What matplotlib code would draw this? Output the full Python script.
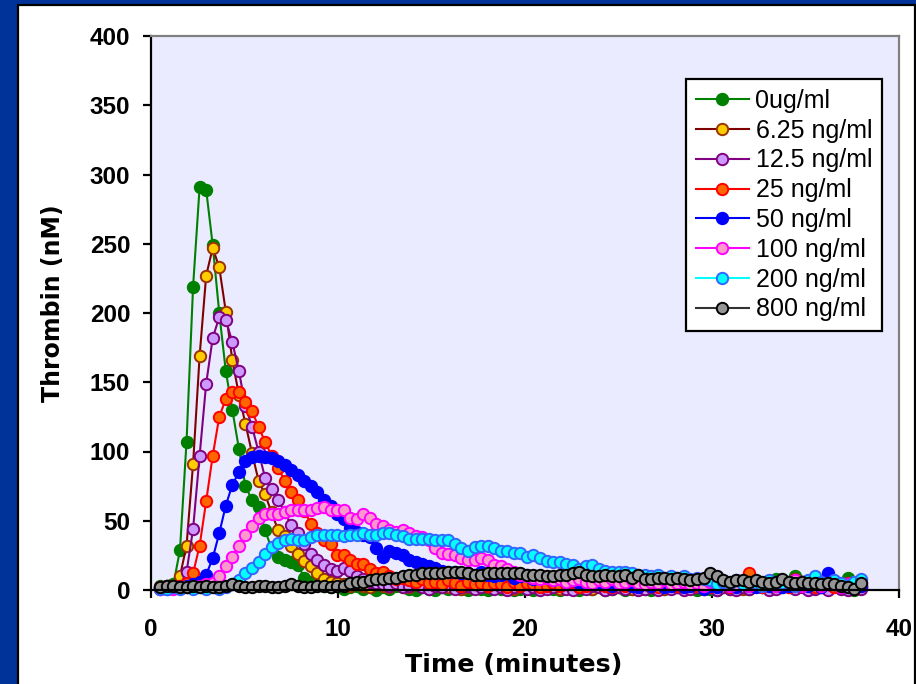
import numpy as np
import matplotlib.pyplot as plt
from matplotlib.patches import Rectangle

# sampling grid: one reading every 21 s from 0.5 min
nPoints = 108
timeMin = 0.5 + 0.35 * np.arange(nPoints)

seriesLabels = ['0ug/ml', '6.25 ng/ml', '12.5 ng/ml', '25 ng/ml',
                '50 ng/ml', '100 ng/ml', '200 ng/ml', '800 ng/ml']

thr0 = [3, 3, 4, 29, 107, 219, 291, 289, 249, 200,
        158, 130, 102, 75, 65, 60, 43, 30, 24, 22,
        20, 18, 9, 6, 4, 3, 2, 3, 1, 2,
        3, 1, 2, 0, 2, 1, 3, 2, 1, 0,
        2, 1, 0, 2, 1, 3, 1, 0, 2, 1,
        0, 2, 1, 3, 0, 1, 2, 0, 1, 3,
        1, 0, 2, 1, 0, 3, 1, 2, 0, 1,
        2, 0, 1, 3, 1, 0, 2, 1, 4, 2,
        1, 3, 0, 2, 1, 0, 2, 1, 3, 2,
        1, 4, 2, 6, 8, 5, 3, 10, 6, 5,
        3, 2, 4, 3, 2, 9, 0, 2]
thr6 = [2, 3, 3, 10, 32, 91, 169, 227, 247, 233,
        201, 166, 141, 120, 99, 79, 69, 56, 43, 39,
        32, 26, 21, 17, 12, 8, 6, 5, 4, 3,
        5, 3, 2, 4, 3, 2, 5, 3, 2, 4,
        3, 2, 3, 5, 2, 3, 1, 2, 4, 3,
        2, 3, 4, 2, 1, 3, 2, 4, 3, 2,
        3, 1, 2, 4, 3, 2, 1, 3, 2, 4,
        2, 3, 1, 2, 3, 4, 2, 1, 3, 2,
        4, 2, 3, 1, 2, 3, 4, 2, 3, 1,
        2, 3, 4, 2, 5, 3, 2, 8, 4, 3,
        2, 3, 1, 4, 2, 3, 1, 2]
thr12 = [2, 3, 2, 3, 13, 44, 97, 149, 182, 197,
         195, 179, 158, 133, 118, 100, 81, 73, 65, 56,
         47, 41, 33, 26, 22, 18, 15, 14, 16, 14,
         10, 8, 6, 5, 4, 3, 5, 2, 3, 4,
         2, 1, 3, 2, 4, 1, 2, 3, 1, 2,
         3, 1, 2, 0, 2, 3, 1, 2, 0, 1,
         2, 3, 1, 0, 2, 1, 3, 2, 0, 1,
         2, 1, 3, 0, 1, 2, 0, 3, 1, 2,
         0, 1, 2, 1, 3, 0, 2, 1, 0, 2,
         1, 3, 2, 0, 1, 2, 3, 1, 2, 0,
         1, 2, 0, 3, 1, 0, 2, 1]
thr25 = [2, 2, 3, 3, 5, 12, 32, 64, 97, 125,
         138, 143, 143, 136, 129, 118, 107, 97, 88, 79,
         71, 65, 57, 48, 41, 36, 33, 25, 25, 22,
         19, 19, 15, 12, 13, 10, 8, 9, 7, 6,
         8, 5, 6, 4, 7, 5, 3, 6, 4, 5,
         3, 5, 4, 2, 6, 3, 5, 4, 2, 3,
         5, 3, 4, 6, 2, 3, 5, 4, 3, 2,
         4, 3, 5, 2, 4, 3, 2, 4, 5, 3,
         2, 4, 3, 5, 2, 3, 4, 2, 3, 4,
         12, 3, 2, 4, 3, 5, 2, 3, 6, 4,
         2, 3, 4, 2, 3, 5, 2, 3]
thr50 = [1, 1, 2, 2, 3, 4, 6, 11, 23, 41,
         61, 76, 85, 93, 96, 97, 96, 95, 93, 90,
         87, 83, 79, 75, 71, 65, 61, 55, 51, 45,
         42, 40, 38, 30, 24, 28, 27, 25, 22, 20,
         19, 17, 16, 14, 13, 13, 12, 12, 11, 13,
         11, 10, 11, 12, 9, 10, 11, 8, 10, 9,
         7, 8, 6, 7, 5, 6, 4, 5, 6, 3,
         4, 5, 3, 2, 4, 3, 5, 2, 3, 4,
         2, 3, 5, 1, 3, 2, 4, 3, 2, 5,
         3, 2, 4, 3, 5, 2, 3, 4, 6, 3,
         5, 2, 12, 4, 3, 2, 4, 3]
thr100 = [1, 2, 1, 2, 2, 3, 3, 4, 5, 10,
          17, 24, 32, 40, 46, 52, 55, 55, 55, 56,
          58, 58, 58, 58, 59, 60, 58, 58, 58, 52,
          51, 55, 52, 48, 46, 43, 42, 43, 41, 39,
          38, 36, 30, 27, 26, 25, 23, 22, 22, 23,
          22, 18, 17, 15, 13, 11, 10, 9, 8, 9,
          7, 8, 6, 7, 8, 6, 5, 7, 6, 8,
          5, 6, 7, 5, 4, 6, 5, 7, 4, 5,
          6, 4, 5, 3, 6, 4, 5, 3, 4, 6,
          3, 5, 4, 6, 3, 4, 5, 7, 3, 4,
          5, 3, 4, 6, 2, 4, 3, 5]
thr200 = [1, 1, 2, 1, 2, 1, 2, 1, 2, 1,
          2, 4, 7, 12, 16, 20, 26, 31, 34, 36,
          37, 36, 36, 38, 40, 40, 40, 40, 39, 40,
          40, 41, 40, 40, 41, 41, 40, 39, 37, 37,
          37, 37, 36, 36, 36, 33, 30, 28, 31, 32,
          32, 30, 28, 28, 27, 27, 24, 25, 23, 21,
          20, 20, 19, 18, 15, 17, 18, 15, 14, 13,
          13, 13, 12, 11, 11, 10, 11, 9, 10, 9,
          10, 8, 9, 8, 7, 4, 6, 5, 7, 4,
          6, 5, 3, 7, 4, 5, 6, 3, 5, 7,
          10, 6, 4, 7, 5, 3, 6, 8]
thr800 = [2, 3, 3, 2, 2, 3, 2, 3, 2, 2,
          3, 4, 3, 2, 2, 3, 3, 2, 2, 3,
          4, 3, 2, 2, 3, 3, 2, 3, 3, 5,
          6, 6, 7, 8, 8, 9, 9, 10, 11, 11,
          12, 12, 12, 12, 13, 13, 13, 12, 11, 11,
          12, 12, 12, 12, 12, 12, 11, 11, 11, 10,
          10, 11, 11, 12, 13, 11, 10, 10, 11, 10,
          10, 11, 9, 11, 8, 8, 9, 9, 8, 9,
          8, 7, 8, 9, 12, 10, 7, 6, 7, 7,
          6, 7, 6, 5, 6, 8, 6, 5, 6, 5,
          5, 4, 5, 4, 3, 2, 1, 5]

allSeries = [thr0, thr6, thr12, thr25, thr50, thr100, thr200, thr800]

# (line colour, marker face, marker edge)
styles = [
  ('#008000', '#008000', '#008000'),
  ('#800000', '#FFCC00', '#993300'),
  ('#800080', '#CC99FF', '#800080'),
  ('#FF0000', '#FF6600', '#FF0000'),
  ('#0000FF', '#0000FF', '#0000FF'),
  ('#FF00FF', '#FF99CC', '#FF00FF'),
  ('#00FFFF', '#00FFFF', '#3366FF'),
  ('#333333', '#969696', '#000000'),
]

W, H = 916, 684
fig = plt.figure(figsize=(W / 100, H / 100), dpi=100, facecolor='#003399')

# white slide panel with black border
panel = Rectangle((17.5 / W, -0.05), (915 - 17.5) / W, 1.05 - 4.5 / H,
                  transform=fig.transFigure, facecolor='white',
                  edgecolor='black', linewidth=1.6, zorder=-1)
fig.patches.append(panel)

ax = fig.add_axes([151 / W, 1 - 590 / H, (899 - 151) / W, (590 - 36) / H])
ax.set_facecolor('#EBEBFF')

for vals, lab, (lc, mf, me) in zip(allSeries, seriesLabels, styles):
  ax.plot(timeMin[:len(vals)], vals, color=lc, linewidth=1.5, marker='o',
          markersize=8.2, markerfacecolor=mf, markeredgecolor=me,
          markeredgewidth=1.4, label=lab, clip_on=False)

ax.set_xlim(0, 40)
ax.set_ylim(0, 400)
ax.set_xticks(range(0, 41, 10))
ax.set_yticks(range(0, 401, 50))

for side in ['left', 'bottom']:
  ax.spines[side].set_color('black')
  ax.spines[side].set_linewidth(1.6)
for side in ['top', 'right']:
  ax.spines[side].set_color('#808080')
  ax.spines[side].set_linewidth(1.6)

ax.tick_params(axis='both', direction='out', length=6, width=1.6, colors='black')
ax.tick_params(axis='y', pad=9)
ax.tick_params(axis='x', pad=14)
for lbl in ax.get_xticklabels() + ax.get_yticklabels():
  lbl.set_fontfamily('Liberation Sans')
  lbl.set_fontweight('bold')
  lbl.set_fontsize(17.5)

fig.text(514 / W, 1 - 672 / H, 'Time (minutes)', ha='center', va='baseline',
         fontsize=18.3, fontweight='bold', family='DejaVu Sans')
fig.text(65 / W, 1 - 303 / H, 'Thrombin (nM)', ha='right', va='center',
         rotation=90, fontsize=17, fontweight='bold', family='DejaVu Sans')

leg = ax.legend(loc='upper right', bbox_to_anchor=((882 - 151) / 748, 1 - (79 - 36) / 554),
                borderaxespad=0, fancybox=False, framealpha=1, edgecolor='black',
                prop={'family': 'Liberation Sans', 'size': 18},
                handlelength=2.15, handletextpad=0.25, labelspacing=0.23,
                borderpad=0.4)
leg.get_frame().set_linewidth(1.6)

fig.savefig('out.png', dpi=100, facecolor=fig.get_facecolor())
